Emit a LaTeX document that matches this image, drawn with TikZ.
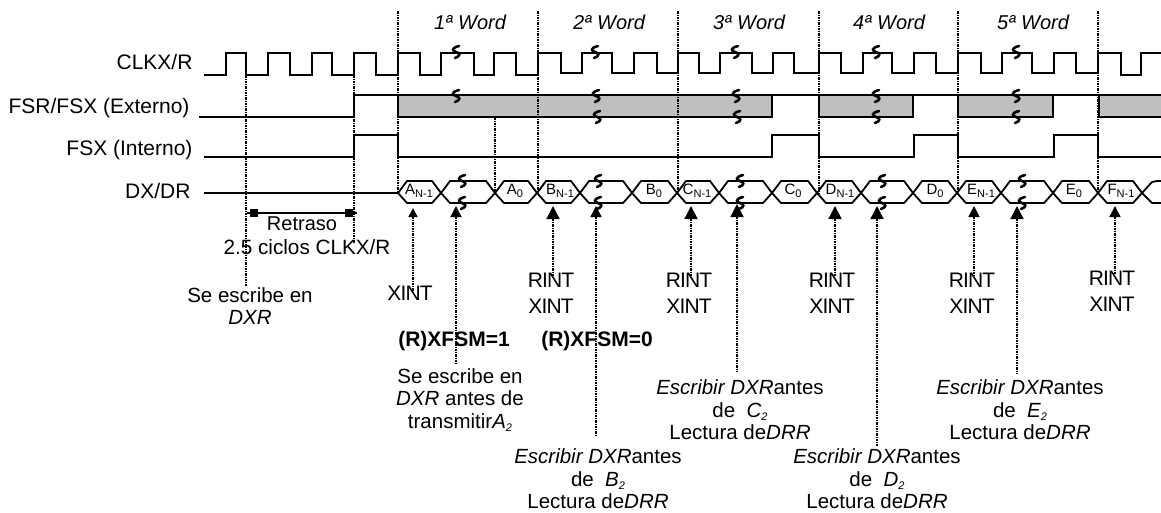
\documentclass[tikz,border=0pt]{standalone}
\usepackage{fontspec}
\setmainfont{Liberation Sans}
\newfontfamily\tightface[LetterSpace=-4]{Liberation Sans}
\usetikzlibrary{arrows.meta}
\newcommand{\lowtxt}[1]{\raisebox{-3.5pt}{\fontsize{11}{11}\selectfont #1}}

\begin{document}
\begin{tikzpicture}[
  x=1pt, y=-1pt,
  wave/.style={line width=1.8pt, line join=miter},
  hexa/.style={line width=1.8pt, line join=round},
  guide/.style={line width=1.5pt, dash pattern=on 2.5pt off 1pt on 1pt off 1pt},
  up/.style={guide, {Triangle[length=#1, width=#1]}-},
  up/.default=13pt,
  sig/.style={anchor=east, font=\fontsize{21}{23}\selectfont},
  word/.style={font=\fontsize{20}{23}\selectfont\itshape},
  irq/.style={font=\tightface\fontsize{21}{26}\selectfont, align=center, inner sep=0pt},
  cmt/.style={font=\fontsize{20.5}{22.6}\selectfont, align=center, inner sep=0pt},
  flag/.style={font=\fontsize{21}{23}\selectfont\bfseries, inner sep=0pt},
  hexlbl/.style={font=\fontsize{15}{15}\selectfont, inner sep=0pt},
  sq/.style={fill=black, inner sep=0pt, minimum size=8.5pt},
  brk/.pic={\draw[line width=2.6pt, line cap=round] (3,-6) .. controls (-5,-4) and (-4,-1) .. (0,0) .. controls (4,1) and (5,4) .. (-1,6);},
]
  \useasboundingbox (0,0) rectangle (1161,512);

  % grey zones
  \foreach \a/\b in {398/772, 819/913, 958/1053, 1099/1161}
    \fill[black!25] (\a,95) rectangle (\b,117);
  \foreach \a/\b in {398/772, 819/913, 958/1053}
    \draw[wave] (\a,95) -- (\a,117) -- (\b,117) -- (\b,95);
  \draw[wave] (1099,95) -- (1099,117) -- (1161,117);

  % guides
  \draw[guide] (246,75) -- (246,286);
  \draw[guide] (354,75) -- (354,243);
  \foreach \x in {398, 538, 678, 819, 958, 1098}
    \draw[guide] (\x,11) -- (\x,193);
  \draw[guide] (495,117) -- (495,193);

  % signals
  \node[sig] (clk) at (196,62) {CLKX/R};
  \node[sig] (fsr) at (193,108) {FSR/FSX (Externo)};
  \node[sig] (fsx) at (196,150) {FSX (Interno)};
  \node[sig] (dx) at (194,191) {DX/DR};

  \draw[wave] (204,75) -| (226,53) -| (246,75) -| (268,53) -| (290,75) -| (312,53) -| (332,75)
    -| (354,53) -| (376,75) -| (398,53) -| (420,75) -| (441,53) -| (474,75) -| (494,53) -| (516,75)
    -| (538,53) -| (561,73) -| (582,53) -| (612,73) -| (634,53) -| (657,73) -| (678,53) -| (699,73)
    -| (720,53) -| (752,73) -| (773,53) -| (794,73) -| (819,53) -| (841,73) -| (863,53) -| (892,73)
    -| (914,53) -| (936,73) -| (958,53) -| (981,73) -| (1002,53) -| (1032,73) -| (1054,53) -| (1076,73)
    -| (1098,53) -| (1121,75) -| (1141,53) -- (1161,53);
  \draw[wave] (199,117) -| (354,95) -- (1161,95);
  \draw[wave] (204,157) -| (354,135) -| (398,157) -| (772,135) -| (819,157) -| (914,135) -| (958,157)
    -| (1054,135) -| (1098,157) -- (1161,157);
  \draw[wave] (204,193) -- (398,193);

  % data words
  \foreach \a/\b in {398/441, 441/495, 495/537, 537/580, 580/632, 632/677, 677/719, 719/772,
                     772/817, 817/861, 861/913, 913/957, 957/1001, 1001/1053, 1053/1098, 1098/1142}
    \draw[hexa] (\a,193) -- (\a+9,181) -- (\b-9,181) -- (\b,193) -- (\b-9,203) -- (\a+9,203) -- cycle;
  \draw[hexa] (1161,181) -- (1157,181) -- (1152,182) -- (1142,193) -- (1152,203) -- (1161,203);

  \foreach \n/\x/\t in {a/419/A, b/560/B, c/697/C, d/840/D, e/981/E, f/1121/F}
    \node[hexlbl] (\n1) at (\x,191) {\t\lowtxt{N-1}};
  \foreach \n/\x/\t in {a/515/A, b/654/B, c/793/C, d/935/D, e/1074/E}
    \node[hexlbl] (\n0) at (\x,191) {\t\lowtxt{0}};

  % breaks
  \foreach \x/\y in {456/52, 595/52, 735/52, 876/52, 1016/52,
                     456/96, 596/96, 736/96, 876/96, 1016/96,
                     597/117, 737/117, 876/117, 1016/117,
                     462/181, 462/203, 598/181, 598/203, 740/181, 740/203,
                     882/181, 882/203, 1022/181, 1022/203}
    \pic at (\x,\y) {brk};

  % word titles
  \foreach \n/\x/\t in {1/470/1, 2/609/2, 3/749/3, 4/889/4, 5/1033/5}
    \node[word] (word\n) at (\x,22) {\t ª Word};

  % delay
  \node[sq] (sqa) at (254,213) {};
  \node[sq] (sqb) at (349,213) {};
  \coordinate (dla) at (247,213);
  \coordinate (dlb) at (357,213);
  \draw[wave] (dla) -- (dlb);
  \node[font=\fontsize{20}{23}\selectfont, inner sep=0pt] (retraso) at (302,224) {Retraso};
  \node[cmt, font=\fontsize{20.7}{23}\selectfont] (ciclos) at (307,247) {2.5 ciclos CLKX/R};
  \node[cmt] (esc) at (250,306) {Se escribe en\\\textit{DXR}};

  % interrupts
  \node[irq] (xa) at (410,293) {XINT};
  \node[irq] (rb) at (551,293) {RINT\\XINT};
  \node[irq] (rc) at (689,293) {RINT\\XINT};
  \node[irq] (rd) at (832,293) {RINT\\XINT};
  \node[irq] (re) at (972,293) {RINT\\XINT};
  \node[irq] (rf) at (1112,291) {RINT\\XINT};

  \node[flag] (fs1) at (454,341) {(R)XFSM=1};
  \node[flag] (fs0) at (597,341) {(R)XFSM=0};

  \node[cmt] (na) at (460,400) {Se escribe en\\\textit{DXR} antes de\\transmitir\textit{A\lowtxt{2}}};
  \node[cmt] (nb) at (598,479) {\textit{Escribir DXR}antes\\de\ \ \textit{B\lowtxt{2}}\\Lectura de\textit{DRR}};
  \node[cmt] (nc) at (740,410) {\textit{Escribir DXR}antes\\de\ \ \textit{C\lowtxt{2}}\\Lectura de\textit{DRR}};
  \node[cmt] (nd) at (877,479) {\textit{Escribir DXR}antes\\de\ \ \textit{D\lowtxt{2}}\\Lectura de\textit{DRR}};
  \node[cmt] (ne) at (1020,410) {\textit{Escribir DXR}antes\\de\ \ \textit{E\lowtxt{2}}\\Lectura de\textit{DRR}};

  % tips
  \coordinate (ta) at (413,208);
  \coordinate (tb) at (456,206);
  \coordinate (tc) at (553,206);
  \coordinate (td) at (596,206);
  \coordinate (te) at (691,206);
  \coordinate (tf) at (737,204);
  \coordinate (tg) at (835,206);
  \coordinate (th) at (877,206);
  \coordinate (ti) at (974,206);
  \coordinate (tj) at (1017,206);
  \coordinate (tk) at (1115,206);

  \draw[up=9pt, shorten >=-8pt] (ta) -- (ta |- xa.north);
  \draw[up=11pt, shorten >=3pt] (tb) -- (tb |- na.north);
  \draw[up, shorten >=-4pt] (tc) -- (tc |- rb.north);
  \draw[up=11pt, shorten >=13pt] (td) -- (td |- nb.north);
  \draw[up, shorten >=-4pt] (te) -- (te |- rc.north);
  \draw[up, shorten >=9pt] (tf) -- (tf |- nc.north);
  \draw[up, shorten >=-4pt] (tg) -- (tg |- rd.north);
  \draw[up, shorten >=3pt] (th) -- (th |- nd.north);
  \draw[up=11pt, shorten >=-4pt] (ti) -- (ti |- re.north);
  \draw[up, shorten >=7pt] (tj) -- (tj |- ne.north);
  \draw[up=11pt, shorten >=-4pt] (tk) -- (tk |- rf.north);
\end{tikzpicture}
\end{document}
